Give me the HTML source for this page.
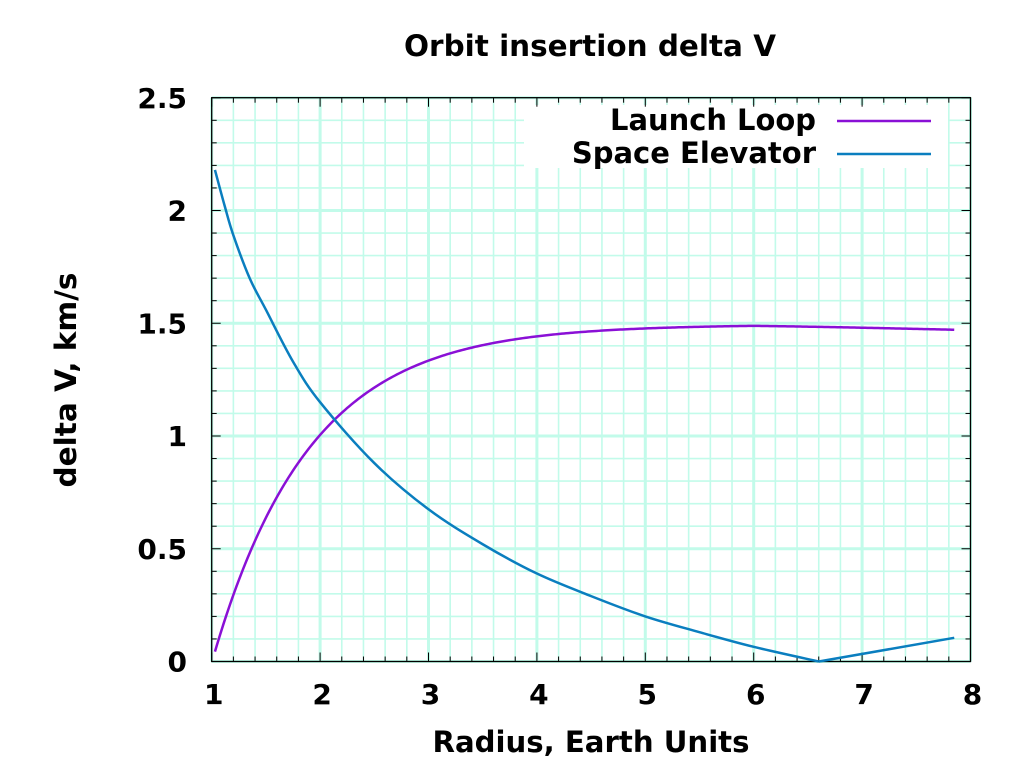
<!DOCTYPE html>
<html><head><meta charset="utf-8"><style>
html,body{margin:0;padding:0;background:#fff;width:1024px;height:768px;overflow:hidden}
svg text{font-family:"DejaVu Sans","Liberation Sans",sans-serif;font-weight:bold;fill:#000}
</style></head><body>
<svg id="s" width="1024" height="768" viewBox="0 0 1024 768" xmlns="http://www.w3.org/2000/svg">
<rect width="1024" height="768" fill="#fff"/>
<g id="grid"></g>
<rect x="524" y="105" width="424" height="63" fill="#fff"/>
<g id="ticks"></g>
<g id="curves"></g>
<text x="590" y="56" font-size="29" text-anchor="middle" textLength="372" lengthAdjust="spacingAndGlyphs">Orbit insertion delta V</text>
<text x="591" y="752" font-size="29" text-anchor="middle" textLength="317" lengthAdjust="spacingAndGlyphs">Radius, Earth Units</text>
<text transform="translate(76,380) rotate(-90)" font-size="29" text-anchor="middle" textLength="215" lengthAdjust="spacingAndGlyphs">delta V, km/s</text>
<text x="816" y="130" font-size="29" text-anchor="end" textLength="206" lengthAdjust="spacingAndGlyphs">Launch Loop</text>
<text x="816" y="163" font-size="29" text-anchor="end">Space Elevator</text>
<line x1="837" y1="121" x2="931" y2="121" stroke="#8a10d6" stroke-width="2.5"/>
<line x1="837" y1="154" x2="931" y2="154" stroke="#0a7ebf" stroke-width="2.5"/>
<g id="labels"></g>
</svg>
<script>
var X0=211.7,XS=108.4,Y0=661.5,YS=225.5;
function px(x){return X0+(x-1)*XS}function py(y){return Y0-y*YS}
var g='',t='',l='';
for(var i=0;i<=35;i++){var x=px(1+i*0.2);var maj=i%5==0;
 g+='<line x1="'+x+'" y1="97.7" x2="'+x+'" y2="661.5" stroke="#c2fbea" stroke-width="'+(maj?3:1.6)+'"/>';
 var len=maj?9:5;
 t+='<line x1="'+x+'" y1="661.5" x2="'+x+'" y2="'+(661.5-len)+'" stroke="#000" stroke-width="1"/>';
 t+='<line x1="'+x+'" y1="97.7" x2="'+x+'" y2="'+(97.7+len)+'" stroke="#000" stroke-width="1"/>';
 if(maj) l+='<text x="'+(x+2)+'" y="704" font-size="28" text-anchor="middle">'+(1+i/5)+'</text>';}
for(var j=0;j<=25;j++){var y=py(j*0.1);var maj=j%5==0;
 g+='<line x1="211.7" y1="'+y+'" x2="970.5" y2="'+y+'" stroke="#c2fbea" stroke-width="'+(maj?3:1.6)+'"/>';
 var len=maj?9:5;
 t+='<line x1="211.7" y1="'+y+'" x2="'+(211.7+len)+'" y2="'+y+'" stroke="#000" stroke-width="1"/>';
 t+='<line x1="970.5" y1="'+y+'" x2="'+(970.5-len)+'" y2="'+y+'" stroke="#000" stroke-width="1"/>';
 if(maj) l+='<text x="187" y="'+(y+10)+'" font-size="28" text-anchor="end">'+(j/10)+'</text>';}
t+='<rect x="211.7" y="97.7" width="758.8" height="563.8" fill="none" stroke="#000" stroke-width="1.3"/>';
document.getElementById('grid').innerHTML=g;
document.getElementById('ticks').innerHTML=t;
document.getElementById('labels').innerHTML=l;
function cr(pts){var P=pts.map(function(p){return [px(p[0]),py(p[1])]});
 var d='M'+P[0][0]+','+P[0][1];
 for(var i=0;i<P.length-1;i++){var p0=P[i-1]||P[i],p1=P[i],p2=P[i+1],p3=P[i+2]||P[i+1];
  d+=' C'+(p1[0]+(p2[0]-p0[0])/6)+','+(p1[1]+(p2[1]-p0[1])/6)+' '+(p2[0]-(p3[0]-p1[0])/6)+','+(p2[1]-(p3[1]-p1[1])/6)+' '+p2[0]+','+p2[1];}
 return d;}
var ld='';
for(var x=1.03;x<=7.851;x+=0.02){var y=0.044+1.45*(1-Math.exp(-1.12*(x-1.03)))-0.012*Math.max(0,x-6);
 ld+=(ld?' L':'M')+px(x).toFixed(2)+','+py(y).toFixed(2);}
var se1=[[1.03,2.18],[1.12,2.02],[1.2,1.89],[1.35,1.7],[1.5,1.56],[1.75,1.33],[2,1.15],[2.5,0.88],[3,0.675],[3.5,0.52],[4,0.39],[4.5,0.29],[5,0.2],[5.5,0.13],[6,0.065],[6.6,0]];
var c='<path d="'+ld+'" fill="none" stroke="#8a10d6" stroke-width="2.5"/>';
c+='<path d="'+cr(se1)+'" fill="none" stroke="#0a7ebf" stroke-width="2.5"/>';
c+='<path d="M'+px(6.6)+','+py(0)+' L'+px(7.85)+','+py(0.105)+'" fill="none" stroke="#0a7ebf" stroke-width="2.5"/>';
document.getElementById('curves').innerHTML=c;
</script>
</body></html>
